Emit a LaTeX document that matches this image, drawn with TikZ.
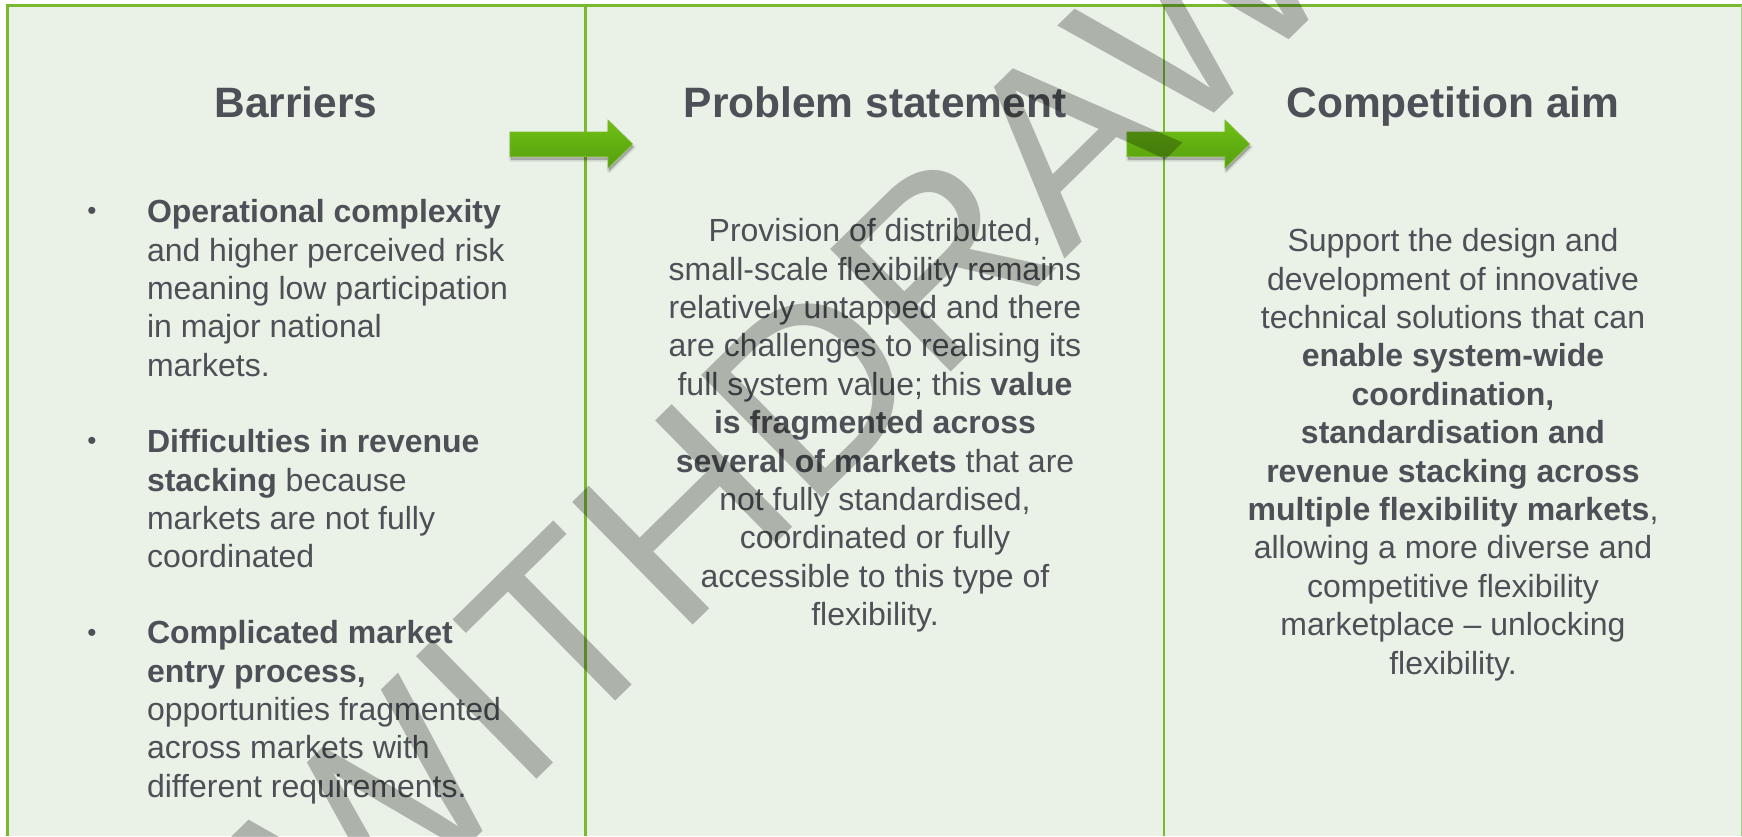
\documentclass[tikz,border=0pt]{standalone}
\usepackage{fontspec}
\setmainfont{Liberation Sans}
\definecolor{panelbg}{RGB}{234,242,231}
\definecolor{framegreen}{RGB}{121,185,47}
\definecolor{inkgray}{RGB}{77,80,86}
\definecolor{arrowtop}{RGB}{110,193,20}
\definecolor{arrowbot}{RGB}{86,158,14}
\tikzset{
  x=1pt,y=-1pt,
  frameline/.style={draw=framegreen,line width=2.8pt},
  bodytext/.style={text=inkgray,font=\fontsize{32}{38.4}\selectfont,inner sep=0pt,outer sep=0pt},
  centertext/.style={bodytext,align=center,anchor=north},
  lefttext/.style={bodytext,align=left,anchor=north west},
  titletext/.style={text=inkgray,font=\fontsize{42.5}{50}\selectfont\bfseries,inner sep=0pt,anchor=base},
  bulletmark/.style={text=inkgray,font=\fontsize{26}{30}\selectfont,inner sep=0pt,anchor=center},
  arrowfill/.style={top color=arrowtop,bottom color=arrowbot,draw=framegreen,line width=.6pt,line join=miter},
  watermark/.style={text=black,text opacity=.26,font=\fontsize{250}{250}\selectfont,inner sep=0pt,rotate=44.5,anchor=base},
}
\newcommand{\arrowpath}[1]{(#1+0,132) -- (#1+98,132) -- (#1+98,120) -- (#1+122.5,144) -- (#1+98,168) -- (#1+98,156.5) -- (#1+0,156.5) -- cycle}
\begin{document}
\begin{tikzpicture}
\useasboundingbox (0,0) rectangle (1742,836);
\clip (0,0) rectangle (1742,836);
\fill[panelbg] (7,5) rectangle (1742,836);
\draw[frameline] (7.3,836) -- (7.3,5.3) -- (1742,5.3);
\draw[frameline] (585.5,5) -- (585.5,836);
\draw[frameline] (1164,5) -- (1164,836);
\draw[framegreen!60!panelbg,line width=1pt] (1741.5,5) -- (1741.5,836);

\node[titletext] (t1) at (296,117.5) {Barriers};
\node[titletext] (t2) at (875,117.5) {Problem statement};
\node[titletext] (t3) at (1453,117.5) {Competition aim};

\node[bulletmark] (b1) at (92,213.5) {•};
\node[lefttext] (i1) at (147,199.5) {\textbf{Operational complexity}\\and higher perceived risk\\meaning low participation\\in major national\\markets.};
\node[bulletmark] (b2) at (92,443.5) {•};
\node[lefttext] (i2) at (147,429.5) {\textbf{Difficulties in revenue}\\\textbf{stacking} because\\markets are not fully\\coordinated};
\node[bulletmark] (b3) at (92,635) {•};
\node[lefttext] (i3) at (147,620.5) {\textbf{Complicated market}\\\textbf{entry process,}\\opportunities fragmented\\across markets with\\different requirements.};

\node[centertext] (p) at (875,218.5) {Provision of distributed,\\small-scale flexibility remains\\relatively untapped and there\\are challenges to realising its\\full system value; this \textbf{value}\\\textbf{is fragmented across}\\\textbf{several of markets} that are\\not fully standardised,\\coordinated or fully\\accessible to this type of\\flexibility.};
\node[centertext] (q) at (1453,228.5) {Support the design and\\development of innovative\\technical solutions that can\\\textbf{enable system-wide}\\\textbf{coordination,}\\\textbf{standardisation and}\\\textbf{revenue stacking across}\\\textbf{multiple flexibility markets},\\allowing a more diverse and\\competitive flexibility\\marketplace – unlocking\\flexibility.};

% arrows with soft shadow
\foreach \xx in {510,1127}{
  \foreach \ss in {5,3.5,2,1}{
    \fill[black,opacity=.06,line join=round] [shift={(1,3)}] \arrowpath{\xx};
    \draw[black,opacity=.04,line width=\ss pt,line join=round] [shift={(1,3)}] \arrowpath{\xx};
  }
  \path[arrowfill] \arrowpath{\xx};
}

\node[watermark] (w) at (913,409) {WITHDRAWN};
\end{tikzpicture}
\end{document}
